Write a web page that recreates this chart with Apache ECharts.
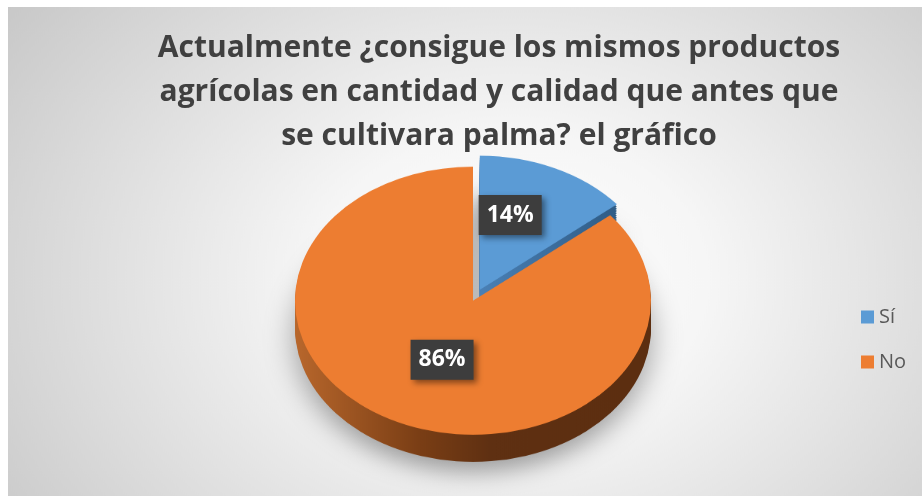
<!DOCTYPE html>
<html>
<head>
<meta charset="utf-8">
<script src="https://cdn.jsdelivr.net/npm/echarts@6/dist/echarts.min.js"></script>
<style>
html, body { margin: 0; padding: 0; background: #fff; overflow: hidden; width: 922px; height: 496px; }
/* pie drawn flat, then squashed to look like a tilted disc */
#pie3d { position: absolute; left: 8px; top: 7px; width: 914px; height: 660px; transform-origin: 0 0; transform: scaleY(0.753); }
#main { position: absolute; left: 0; top: 0; width: 922px; height: 496px; }
</style>
</head>
<body>
<div id="pie3d"></div>
<div id="main"></div>
<script>
// data
const categories = ['Sí', 'No']
const values = [14, 86]
const titleText = 'Actualmente ¿consigue los mismos productos\nagrícolas en cantidad y calidad que antes que\nse cultivara palma? el gráfico'

// styling
const topColors = ['#5b9bd5', '#ed7d31']
const sideColors = [
  new echarts.graphic.LinearGradient(0, 0, 1, 0, [
    { offset: 0, color: '#4a80b5' }, { offset: 1, color: '#2f5c86' }
  ]),
  new echarts.graphic.LinearGradient(0, 0, 1, 0, [
    { offset: 0, color: '#b8672c' }, { offset: 0.35, color: '#7a3e15' },
    { offset: 0.55, color: '#5f3012' }, { offset: 1, color: '#5c2e10' }
  ])
]
const pieCenter = [465, 390]
const pieRadius = 178
const depth = 36
const explode = 16

function sliceData (colors) {
  return categories.map((name, i) => ({
    name: name,
    value: values[i],
    selected: i === 0,
    itemStyle: { color: colors[i] }
  }))
}

function pieLayer (offsetY, colors, extraStyle) {
  return {
    type: 'pie',
    center: [pieCenter[0], pieCenter[1] + offsetY],
    radius: pieRadius,
    startAngle: 90,
    selectedMode: 'single',
    selectedOffset: explode,
    silent: true,
    label: { show: false },
    labelLine: { show: false },
    emphasis: { disabled: true },
    itemStyle: Object.assign({ borderWidth: 0 }, extraStyle || {}),
    data: sliceData(colors)
  }
}

const layers = []
for (let k = depth; k > 0; k -= 3) {
  layers.push(pieLayer(k, sideColors, k === depth
    ? { shadowBlur: 30, shadowColor: 'rgba(0,0,0,0.35)', shadowOffsetY: 14 }
    : null))
}
layers.push(pieLayer(0, topColors))

const pieChart = echarts.init(document.getElementById('pie3d'))
pieChart.setOption({
  animation: false,
  backgroundColor: {
    type: 'radial', x: 0.55, y: 0.55, r: 1,
    colorStops: [
      { offset: 0, color: '#ffffff' },
      { offset: 0.3, color: '#f6f6f6' },
      { offset: 1, color: '#c4c4c4' }
    ]
  },
  series: layers
})

// title, legend and the value labels on top, unsquashed
const mainChart = echarts.init(document.getElementById('main'))
mainChart.setOption({
  animation: false,
  title: {
    text: titleText,
    left: 499,
    top: 26,
    padding: 0,
    textAlign: 'center',
    textStyle: {
      fontFamily: 'Open Sans',
      fontWeight: 'bold',
      fontSize: 30,
      lineHeight: 44,
      color: '#404040'
    }
  },
  legend: {
    orient: 'vertical',
    left: 861,
    top: 306,
    padding: 0,
    icon: 'rect',
    itemWidth: 13,
    itemHeight: 13,
    itemGap: 23,
    textStyle: { fontFamily: 'Open Sans', fontSize: 20, lineHeight: 22, color: '#595959' },
    data: categories.map((name, i) => ({ name: name, itemStyle: { color: topColors[i], opacity: 1 } }))
  },
  series: [{
    type: 'pie',
    center: [474, 292],
    radius: 144,
    startAngle: 90,
    selectedMode: 'single',
    selectedOffset: 10,
    silent: true,
    itemStyle: { borderWidth: 0 },
    labelLine: { show: false },
    label: {
      show: true,
      position: 'inside',
      formatter: '{d}%',
      color: '#ffffff',
      fontFamily: 'Open Sans',
      fontWeight: 'bold',
      fontSize: 23,
      lineHeight: 30,
      backgroundColor: '#3d3d3d',
      padding: [5, 8, 5, 8],
      shadowColor: 'rgba(0,0,0,0.45)',
      shadowBlur: 6,
      shadowOffsetX: 3,
      shadowOffsetY: 3
    },
    emphasis: { disabled: true },
    data: categories.map((name, i) => ({
      name: name,
      value: values[i],
      selected: i === 0,
      itemStyle: { color: 'rgba(0,0,0,0)' }
    }))
  }]
})
</script>
</body>
</html>
